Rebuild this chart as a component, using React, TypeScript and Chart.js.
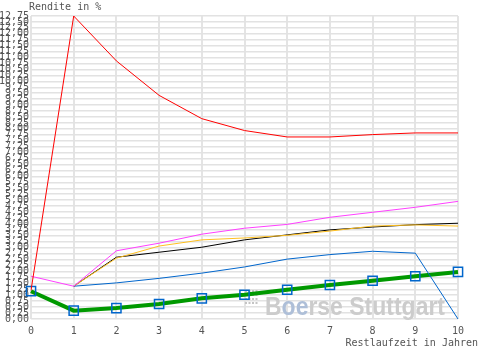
import React, { useEffect, useRef } from "react";
import { Chart, registerables } from "chart.js";

Chart.register(...registerables);

const years = ["0", "1", "2", "3", "4", "5", "6", "7", "8", "9", "10"];
const redSeries = [1.2, 12.75, 10.86, 9.41, 8.43, 7.93, 7.66, 7.66, 7.76, 7.83, 7.83];
const magentaSeries = [1.8, 1.38, 2.87, 3.19, 3.57, 3.82, 3.98, 4.28, 4.49, 4.7, 4.95];
const orangeSeries = [null, 1.38, 2.56, 3.07, 3.33, 3.41, 3.52, 3.7, 3.91, 3.96, 3.91];
const blackSeries = [null, 1.38, 2.6, 2.81, 3.02, 3.33, 3.54, 3.75, 3.87, 3.97, 4.03];
const blueSeries = [null, 1.38, 1.52, 1.71, 1.93, 2.19, 2.52, 2.71, 2.85, 2.77, 0.0];
const greenSeries = [1.17, 0.35, 0.46, 0.63, 0.87, 1.02, 1.23, 1.43, 1.61, 1.8, 1.98];
const yTitle = "Rendite in %";
const xTitle = "Restlaufzeit in Jahren";
const watermark = ["B", "oe", "rse Stuttgart"];

const MONO = '"DejaVu Sans Mono", monospace';

const textPlugin = {
  id: "customText",
  beforeDatasetsDraw(chart: any) {
    const ctx = chart.ctx;
    const area = chart.chartArea;
    ctx.save();
    // dotted logo
    ctx.fillStyle = "#c4c4c4";
    for (let r = 0; r < 4; r++) {
      for (let c = 0; c < 4; c++) {
        ctx.fillRect(area.left + 214 + c * 3.5, area.top + 274 + r * 4, 2, 2);
      }
    }
    ctx.font = 'bold 25px "Liberation Sans", sans-serif';
    ctx.textBaseline = "alphabetic";
    const full = watermark.join("");
    const w = ctx.measureText(full).width;
    const targetW = 180;
    const sx = targetW / w;
    ctx.translate(area.left + 234, area.top + 299);
    ctx.scale(sx, 1);
    let x = 0;
    const cols = ["#cccccc", "#aebfd8", "#cccccc"];
    watermark.forEach((part, i) => {
      ctx.fillStyle = cols[i];
      ctx.fillText(part, x, 0);
      x += ctx.measureText(part).width;
    });
    ctx.restore();
  },
  afterDraw(chart: any) {
    const ctx = chart.ctx;
    ctx.save();
    ctx.font = "10px " + MONO;
    ctx.fillStyle = "#555555";
    ctx.textBaseline = "middle";
    ctx.textAlign = "left";
    ctx.fillText(yTitle, 29, 7);
    ctx.textAlign = "right";
    ctx.fillText(xTitle, 478, 343);
    ctx.restore();
  },
};

export default function App() {
  const ref = useRef<HTMLCanvasElement | null>(null);
  useEffect(() => {
    if (!ref.current) return;
    const line = (data: any[], color: string, width: number) => ({
      data,
      borderColor: color,
      backgroundColor: color,
      borderWidth: width,
      pointRadius: 0,
      tension: 0,
      fill: false,
    });
    const chart = new Chart(ref.current, {
      type: "line",
      data: {
        labels: years,
        datasets: [
          line(redSeries, "#ff0000", 1),
          line(magentaSeries, "#ff40ff", 1),
          line(orangeSeries, "#ffc020", 1),
          line(blackSeries, "#000000", 1),
          line(blueSeries, "#0066cc", 1),
          {
            data: greenSeries,
            borderColor: "#009900",
            backgroundColor: "transparent",
            borderWidth: 4,
            pointStyle: "rect",
            pointRadius: 6.5,
            pointBorderColor: "#0066cc",
            pointBackgroundColor: "transparent",
            pointBorderWidth: 1.5,
            tension: 0,
            fill: false,
          },
        ],
      },
      options: {
        responsive: false,
        animation: false,
        layout: { padding: { top: 16, right: 42, left: 0, bottom: 0 } },
        plugins: {
          legend: { display: false },
          tooltip: { enabled: false },
          title: { display: false },
        },
        scales: {
          x: {
            type: "category",
            offset: false,
            grid: { color: "#e4e4e4", lineWidth: 2, drawTicks: false },
            border: { display: false },
            ticks: {
              padding: 6,
              color: "#555555",
              font: { family: MONO, size: 10 },
              autoSkip: false,
              maxRotation: 0,
            },
            afterFit: (s: any) => {
              s.height = 31;
            },
          },
          y: {
            type: "linear",
            min: 0,
            max: 12.75,
            grid: { color: "#e2e2e2", lineWidth: 1.5, drawTicks: false },
            border: { display: false },
            ticks: {
              stepSize: 0.25,
              autoSkip: false,
              padding: 2,
              color: "#555555",
              font: { family: MONO, size: 10 },
              callback: (v: any) => Number(v).toFixed(2).replace(".", ","),
            },
            afterFit: (s: any) => {
              s.width = 31;
            },
          },
        },
      },
      plugins: [textPlugin],
    });
    return () => chart.destroy();
  }, []);
  return (
    <div style={{ position: "absolute", left: 0, top: 0, width: 500, height: 350, background: "#ffffff" }}>
      <canvas ref={ref} width={500} height={350} style={{ display: "block" }} />
    </div>
  );
}
